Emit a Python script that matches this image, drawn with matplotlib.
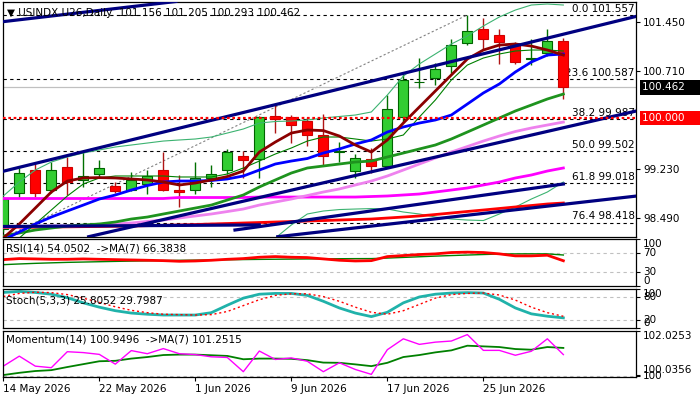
import numpy as np
import pandas as pd
import matplotlib
matplotlib.use("Agg")
import matplotlib.pyplot as plt
from matplotlib.transforms import blended_transform_factory

plt.rcParams['font.family'] = ['DejaVu Sans']
plt.rcParams['font.size'] = 7.5

# daily bars, 14 May 2026 .. 2 Jul 2026
dates = pd.bdate_range("2026-05-14", periods=36)

opens = [98.33, 98.86, 99.21, 98.91, 99.26, 99.07, 99.16, 98.97, 98.92, 99.00,
         99.22, 98.91, 98.92, 99.10, 99.22, 99.43, 99.38, 100.03, 100.01, 99.95,
         99.75, 99.49, 99.20, 99.38, 99.27, 100.01, 100.54, 100.61, 100.79, 101.14,
         101.35, 101.25, 101.12, 100.89, 100.98, 101.156]
highs = [98.80, 99.24, 99.32, 99.34, 99.41, 99.49, 99.37, 99.04, 99.19, 99.21,
         99.49, 99.14, 99.34, 99.29, 99.53, 99.50, 100.03, 100.20, 100.05, 100.01,
         100.06, 99.64, 99.45, 99.54, 100.35, 100.70, 100.90, 100.83, 101.20, 101.557,
         101.51, 101.34, 101.15, 101.19, 101.35, 101.205]
lows = [98.28, 98.79, 98.81, 98.86, 98.84, 98.96, 99.09, 98.86, 98.90, 98.85,
        98.89, 98.66, 98.85, 98.96, 99.16, 99.10, 99.10, 99.77, 99.63, 99.57,
        99.27, 99.34, 99.10, 99.17, 99.26, 99.94, 100.46, 100.50, 100.68, 101.10,
        101.05, 100.82, 100.81, 100.80, 100.93, 100.293]
closes = [98.77, 99.17, 98.86, 99.21, 99.03, 99.12, 99.24, 98.89, 99.06, 99.13,
          98.92, 98.88, 99.10, 99.16, 99.48, 99.37, 100.02, 99.98, 99.90, 99.75,
          99.43, 99.50, 99.39, 99.27, 100.13, 100.58, 100.55, 100.74, 101.11, 101.31,
          101.20, 101.15, 100.85, 100.90, 101.16, 100.462]

# moving averages on the price chart
ma_fast = [98.187, 98.399, 98.640, 98.882, 99.048, 99.094, 99.100, 99.094, 99.079, 99.064,
           99.033, 98.988, 99.018, 99.064, 99.116, 99.199, 99.486, 99.637, 99.773, 99.819,
           99.810, 99.728, 99.592, 99.486, 99.668, 99.924, 100.166, 100.408, 100.650, 100.891,
           101.027, 101.102, 101.118, 101.087, 101.027, 100.951]
ma_blue = [98.157, 98.278, 98.399, 98.504, 98.595, 98.685, 98.776, 98.837, 98.912, 98.980,
           99.033, 99.048, 99.048, 99.056, 99.079, 99.124, 99.214, 99.305, 99.350, 99.388,
           99.471, 99.532, 99.607, 99.668, 99.788, 99.864, 99.924, 99.970, 100.045, 100.211,
           100.378, 100.514, 100.695, 100.846, 100.951, 100.967]
ma_thin = [98.006, 98.187, 98.399, 98.610, 98.822, 99.003, 99.094, 99.124, 99.124, 99.124,
           99.124, 99.109, 99.109, 99.109, 99.154, 99.245, 99.350, 99.456, 99.547, 99.652,
           99.713, 99.713, 99.683, 99.652, 99.683, 99.743, 100.015, 100.272, 100.574, 100.800,
           100.906, 100.967, 101.012, 101.027, 101.027, 101.012]
ma_green = [98.218, 98.263, 98.308, 98.338, 98.368, 98.384, 98.399, 98.429, 98.474, 98.504,
            98.550, 98.595, 98.640, 98.685, 98.761, 98.837, 98.958, 99.064, 99.169, 99.245,
            99.275, 99.305, 99.335, 99.350, 99.411, 99.471, 99.532, 99.592, 99.683, 99.788,
            99.894, 100.000, 100.106, 100.196, 100.287, 100.362]
ma_violet = [98.353, 98.353, 98.361, 98.368, 98.368, 98.376, 98.384, 98.399, 98.414, 98.437,
             98.459, 98.489, 98.520, 98.550, 98.587, 98.625, 98.685, 98.731, 98.776, 98.829,
             98.882, 98.928, 98.988, 99.048, 99.124, 99.214, 99.305, 99.396, 99.486, 99.569,
             99.652, 99.728, 99.796, 99.849, 99.894, 99.939]
ma_magenta = [98.784, 98.784, 98.784, 98.784, 98.784, 98.784, 98.784, 98.784, 98.784, 98.784,
              98.784, 98.799, 98.799, 98.799, 98.799, 98.799, 98.806, 98.806, 98.806, 98.806,
              98.806, 98.806, 98.806, 98.814, 98.822, 98.837, 98.852, 98.882, 98.912, 98.943,
              98.988, 99.033, 99.094, 99.139, 99.199, 99.245]
ma_red = [98.346, 98.349, 98.350, 98.353, 98.356, 98.359, 98.361, 98.365, 98.368, 98.374,
          98.379, 98.384, 98.391, 98.399, 98.406, 98.414, 98.421, 98.429, 98.436, 98.444,
          98.451, 98.459, 98.467, 98.474, 98.489, 98.504, 98.520, 98.542, 98.565, 98.588,
          98.610, 98.633, 98.656, 98.678, 98.701, 98.716]
band_upper = [98.822, 99.033, 99.214, 99.335, 99.411, 99.471, 99.517, 99.562, 99.592, 99.622,
              99.652, 99.668, 99.683, 99.713, 99.773, 99.834, 99.924, 99.947, 99.955, 99.970,
              100.000, 100.023, 100.045, 100.091, 100.347, 100.634, 100.816, 100.967, 101.118, 101.239,
              101.390, 101.526, 101.631, 101.707, 101.722, 101.707]
band_lower = [97.60, 97.55, 97.55, 97.60, 97.68, 97.75, 97.80, 97.86, 97.90, 97.93,
              97.95, 97.96, 97.97, 97.98, 97.99, 98.00, 98.05, 98.187, 98.384, 98.550,
              98.595, 98.617, 98.625, 98.632, 98.625, 98.580, 98.550, 98.504, 98.474, 98.459,
              98.451, 98.550, 98.655, 98.776, 98.882, 99.033]

# drawn objects: (bar, price) anchors
trend_a = [(0, 101.456), (10, 101.738)]
trend_b = [(0, 99.196), (35, 101.266)]
trend_c = [(0, 97.911), (35, 99.853)]
trend_d = [(14.48, 98.308), (35, 99.003)]
trend_e = [(20, 98.285), (35, 98.696)]
trend_flat = [(-0.2, 98.361), (16, 98.385)]
fib_low = (-6.4, 97.447)
fib_high = (29, 101.557)
fib_levels = [101.557, 100.587, 99.987, 99.502, 99.018, 98.418]
fib_names = ["0.0", "23.6", "38.2", "50.0", "61.8", "76.4"]
price_ticks = [101.45, 100.71, 99.23, 98.49]
bid = 100.462
round_level = 100.0

# indicators
rsi = [56.5, 58.7, 58.0, 57.2, 57.2, 58.0, 57.2, 56.5, 55.8, 55.1,
       54.3, 52.9, 53.6, 55.1, 57.2, 58.7, 61.6, 63.0, 61.6, 60.9,
       58.0, 55.1, 53.6, 54.3, 63.0, 65.2, 67.4, 68.8, 71.7, 72.5,
       71.7, 68.8, 64.5, 64.5, 65.9, 54.05]
rsi_ma = [45.7, 47.2, 48.5, 49.6, 50.6, 51.3, 52.0, 52.7, 53.3, 53.9,
          54.5, 55.0, 55.4, 55.8, 56.2, 56.6, 57.0, 57.3, 57.6, 57.9,
          58.2, 58.4, 58.6, 58.7, 59.8, 61.2, 62.6, 64.0, 65.2, 66.3,
          67.4, 68.4, 68.8, 68.9, 68.8, 66.38]
stoch_k = [90.5, 93, 90.5, 86, 77, 64, 53, 44, 38, 35,
           33, 33, 33, 39, 58, 76, 86, 88, 88, 83,
           68, 51, 38, 29, 40, 64, 79, 86, 89, 90,
           89, 73, 51, 36, 30, 25.8]
stoch_d = [80, 88, 91, 90, 85, 76, 65, 54, 45, 39,
           35, 34, 33, 34, 42, 57, 72, 83, 87, 87,
           80, 68, 53, 40, 35, 44, 60, 76, 85, 88,
           89, 84, 71, 53, 39, 29.8]
momentum = [100.43, 100.88, 100.43, 100.36, 101.08, 101.04, 100.96, 100.52, 101.13, 100.99,
            101.22, 100.99, 100.95, 100.85, 100.82, 100.18, 101.11, 100.73, 100.80, 100.65,
            100.18, 100.58, 100.28, 100.06, 101.17, 101.66, 101.41, 101.51, 101.56, 101.85,
            101.14, 101.14, 100.92, 101.10, 101.66, 100.95]
momentum_ma = [100.03, 100.13, 100.21, 100.25, 100.39, 100.52, 100.65, 100.67, 100.77, 100.84,
               100.93, 100.95, 100.95, 100.92, 100.89, 100.74, 100.77, 100.77, 100.76, 100.70,
               100.59, 100.58, 100.51, 100.43, 100.58, 100.84, 100.93, 101.05, 101.14, 101.35,
               101.32, 101.29, 101.20, 101.17, 101.29, 101.25]

W, H = 700, 400
fig = plt.figure(figsize=(7, 4), dpi=100)


def panel(top, bottom):
    a = fig.add_axes([2.5 / W, 1 - bottom / H, (636 - 2.5) / W, (bottom - top) / H])
    for s in a.spines.values():
        s.set_color('black')
        s.set_linewidth(0.9)
    a.set_xlim(-0.05, 39.54)
    a.yaxis.tick_right()
    a.tick_params(axis='y', direction='out', length=3, width=0.8, pad=2, labelsize=7.5)
    a.tick_params(axis='x', bottom=False, labelbottom=False)
    return a


ax = panel(1.5, 236.7)
ax_rsi = panel(239.3, 286)
ax_st = panel(288.7, 328)
ax_mom = panel(330.7, 376.7)

x = np.arange(len(closes))
o, h, l, c = map(np.array, (opens, highs, lows, closes))

# --- price panel
ax.set_ylim(98.207, 101.760)
for lvl, name in zip(fib_levels, fib_names):
    ax.axhline(lvl, color='black', lw=0.8, ls=(0, (3, 3)), zorder=1)
    ax.text(0.998, lvl + 0.02, f"{name} {lvl:.3f}", transform=blended_transform_factory(ax.transAxes, ax.transData),
            ha='right', va='bottom', fontsize=7.5, zorder=1)
ax.plot([fib_low[0], fib_high[0]], [fib_low[1], fib_high[1]], color='#808080', lw=0.8, ls=(0, (2, 2)), zorder=1)
ax.axhline(bid, color='#C0C0C0', lw=0.9, zorder=1.5)

up = c >= o
wick_col = np.where(up, '#007000', '#B01515')
ax.vlines(x, l, h, colors=wick_col, lw=1, zorder=3)
ax.bar(x, np.maximum(np.abs(c - o), 0.006), bottom=np.minimum(o, c), width=0.62,
       color=np.where(up, '#32CD32', '#FF0000'), edgecolor=np.where(up, '#006400', '#D00000'),
       lw=0.8, zorder=3.1)

ax.plot(x, band_upper, color='#3CB371', lw=0.8, zorder=4)
ax.plot(x, band_lower, color='#3CB371', lw=0.8, zorder=4)
ax.plot(x, ma_red, color='#FF0000', lw=2.0, zorder=4)
ax.plot(x, ma_magenta, color='#FF00FF', lw=2.0, zorder=4)
ax.plot(x, ma_violet, color='#EE82EE', lw=2.0, zorder=4)
ax.plot(x, ma_green, color='#1E931E', lw=2.0, zorder=4)
ax.plot(x, ma_thin, color='#008000', lw=0.8, zorder=4)
ax.plot(x, ma_blue, color='#0000FF', lw=2.0, zorder=4)
ax.plot(x, ma_fast, color='#8B0000', lw=2.0, zorder=4)

for pts in (trend_a, trend_b, trend_c, trend_e):
    ax.axline(pts[0], pts[1], color='#000080', lw=2.3, zorder=5)
for pts in (trend_d, trend_flat):
    ax.plot([pts[0][0], pts[1][0]], [pts[0][1], pts[1][1]], color='#000080', lw=2.3, zorder=5)
ax.axhline(round_level, color='#FF0000', lw=1.6, ls=(0, (1.2, 1.2)), zorder=5)

ax.set_yticks(price_ticks, labels=[f"{p:.3f}" for p in price_ticks])
ax.text(5 / 634, 101.59, "▼ USINDX.U26,Daily  101.156 101.205 100.293 100.462",
        transform=blended_transform_factory(ax.transAxes, ax.transData), va='center', fontsize=7.5,
        color='black', zorder=6)
tr = blended_transform_factory(ax.transAxes, ax.transData)
ax.annotate(f"{bid:.3f}    ", (1, bid), xycoords=tr, xytext=(6, 0), textcoords='offset pixels',
            va='center', ha='left', color='white', fontsize=7.5, annotation_clip=False,
            bbox=dict(boxstyle='square,pad=0.22', fc='black', ec='none'))
ax.annotate(f"{round_level:.3f}    ", (1, round_level), xycoords=tr, xytext=(6, 0), textcoords='offset pixels',
            va='center', ha='left', color='white', fontsize=7.5, annotation_clip=False,
            bbox=dict(boxstyle='square,pad=0.22', fc='#FF0000', ec='none'))

# --- RSI
ax_rsi.set_ylim(0, 100)
for lvl in (70, 30):
    ax_rsi.axhline(lvl, color='#C0C0C0', lw=0.8, ls=(0, (3, 3)))
ax_rsi.plot(x, rsi_ma, color='#008000', lw=1.0)
ax_rsi.plot(x, rsi, color='#FF0000', lw=2.0)
ax_rsi.set_yticks([100, 70, 30, 0], labels=["100", "70", "30", "0"])
for t, va in zip(ax_rsi.get_yticklabels(), ['top', 'center', 'center', 'bottom']):
    t.set_va(va)
ax_rsi.text(0.006, 0.81, "RSI(14) 54.0502  ->MA(7) 66.3838", transform=ax_rsi.transAxes, va='center')

# --- Stochastic
ax_st.set_ylim(0, 100)
for lvl in (80, 20):
    ax_st.axhline(lvl, color='#C0C0C0', lw=0.8, ls=(0, (3, 3)))
ax_st.plot(x, stoch_k, color='#20B2AA', lw=2.0)
ax_st.plot(x, stoch_d, color='#FF0000', lw=1.0, ls=(0, (1.5, 2)))
ax_st.set_yticks([100, 80, 20, 0], labels=["100", "80", "20", "0"])
for t, va in zip(ax_st.get_yticklabels(), ['top', 'center', 'center', 'bottom']):
    t.set_va(va)
ax_st.text(0.006, 0.71, "Stoch(5,3,3) 25.8052 29.7987", transform=ax_st.transAxes, va='center')

# --- Momentum
ax_mom.set_ylim(99.955, 102.0253)
ax_mom.axhline(100, color='#C0C0C0', lw=0.8, ls=(0, (3, 3)))
ax_mom.plot(x, momentum_ma, color='#008000', lw=1.3)
ax_mom.plot(x, momentum, color='#FF00FF', lw=1.0)
ax_mom.set_yticks([102.0253, 100.0356, 100], labels=["102.0253", "100.0356", "100"])
for t, va in zip(ax_mom.get_yticklabels(), ['top', 'bottom', 'center']):
    t.set_va(va)
ax_mom.text(0.006, 0.80, "Momentum(14) 100.9496  ->MA(7) 101.2515", transform=ax_mom.transAxes, va='center')

tick_idx = list(range(0, len(dates), 6))
ax_mom.tick_params(axis='x', bottom=True, labelbottom=True, direction='out', length=3, width=0.8, pad=2)
ax_mom.set_xticks(tick_idx, labels=[f"{dates[i].day} {dates[i]:%b %Y}" for i in tick_idx])
for t in ax_mom.get_xticklabels():
    t.set_ha('left')

fig.savefig("out.png", dpi=100)
